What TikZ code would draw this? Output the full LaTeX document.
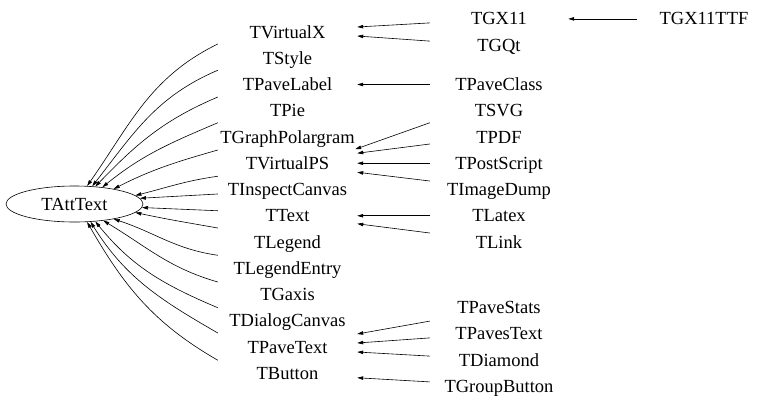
\documentclass[tikz,border=0pt]{standalone}
\usepackage{fontspec}
\setmainfont{Liberation Serif}
\usetikzlibrary{arrows.meta,shapes.geometric}

\begin{document}
\begin{tikzpicture}[x=1pt,y=1pt,
  every node/.style={font=\fontsize{18.5}{22}\selectfont, text height=12pt, text depth=0pt, inner sep=0pt},
  colA/.style={minimum width=139pt},
  colB/.style={minimum width=138pt},
  colC/.style={minimum width=134pt},
  inh/.style={line width=0.6pt, -{Triangle[length=6pt,width=3.5pt]}}]
  \useasboundingbox (0,0) rectangle (779,-405);

  % base class
  \node[ellipse, draw, line width=0.6pt, minimum width=137pt, minimum height=36pt] (TAttText) at (74.5,-204) {TAttText};

  % direct subclasses
  \node[colA] (TVirtualX) at (287.5,-32) {TVirtualX};
  \node[colA] (TStyle) at (287.5,-58.25) {TStyle};
  \node[colA] (TPaveLabel) at (287.5,-84.5) {TPaveLabel};
  \node[colA] (TPie) at (287.5,-110.75) {TPie};
  \node[colA] (TGraphPolargram) at (287.5,-137) {TGraphPolargram};
  \node[colA] (TVirtualPS) at (287.5,-163.25) {TVirtualPS};
  \node[colA] (TInspectCanvas) at (287.5,-189.5) {TInspectCanvas};
  \node[colA] (TText) at (287.5,-215.75) {TText};
  \node[colA] (TLegend) at (287.5,-242) {TLegend};
  \node[colA] (TLegendEntry) at (287.5,-268.25) {TLegendEntry};
  \node[colA] (TGaxis) at (287.5,-294.5) {TGaxis};
  \node[colA] (TDialogCanvas) at (287.5,-320.75) {TDialogCanvas};
  \node[colA] (TPaveText) at (287.5,-347) {TPaveText};
  \node[colA] (TButton) at (287.5,-373.25) {TButton};

  % second level
  \node[colB] (TGX11) at (499,-18.9) {TGX11};
  \node[colB] (TGQt) at (499,-45.1) {TGQt};
  \node[colB] (TPaveClass) at (499,-84.5) {TPaveClass};
  \node[colB] (TSVG) at (499,-110.75) {TSVG};
  \node[colB] (TPDF) at (499,-137) {TPDF};
  \node[colB] (TPostScript) at (499,-163.25) {TPostScript};
  \node[colB] (TImageDump) at (499,-189.5) {TImageDump};
  \node[colB] (TLatex) at (499,-215.75) {TLatex};
  \node[colB] (TLink) at (499,-242) {TLink};
  \node[colB] (TPaveStats) at (499,-307.6) {TPaveStats};
  \node[colB] (TPavesText) at (499,-333.9) {TPavesText};
  \node[colB] (TDiamond) at (499,-360.1) {TDiamond};
  \node[colB] (TGroupButton) at (499,-386.4) {TGroupButton};

  % third level
  \node[colC] (TGX11TTF) at (704,-18.9) {TGX11TTF};

  % edges into TAttText
  \draw[inh] ([yshift=-12pt]TVirtualX.west) to[out=206,in=55] (TAttText.55);
  \draw[inh] ([yshift=-12pt]TStyle.west) to[out=203,in=52] (TAttText.45);
  \draw[inh] ([yshift=-12.5pt]TPaveLabel.west) to[out=203,in=46] (TAttText.40);
  \draw[inh] ([yshift=-12pt]TPie.west) to[out=203,in=39] (TAttText.31);
  \draw[inh] ([yshift=-13pt]TGraphPolargram.west) to[out=196,in=27] (TAttText.21);
  \draw[inh] ([yshift=-13pt]TVirtualPS.west) to[out=188,in=14] (TAttText.8);
  \draw[inh] ([yshift=-4.5pt]TInspectCanvas.west) -- (TAttText.5);
  \draw[inh] ([yshift=5pt]TText.west) -- (TAttText.-3);
  \draw[inh] ([yshift=14pt]TLegend.west) to[out=170,in=-12] (TAttText.-8);
  \draw[inh] ([yshift=13pt]TLegendEntry.west) to[out=172,in=-18] (TAttText.-21);
  \draw[inh] ([yshift=12.5pt]TGaxis.west) to[out=164,in=-31] (TAttText.-30);
  \draw[inh] ([yshift=13pt]TDialogCanvas.west) to[out=157,in=-51] (TAttText.-40);
  \draw[inh] ([yshift=14pt]TPaveText.west) to[out=150,in=-58] (TAttText.-48);
  \draw[inh] ([yshift=13pt]TButton.west) to[out=150,in=-60] (TAttText.-55);

  % edges between subclasses
  \draw[inh] ([yshift=-4pt]TGX11.west) -- ([yshift=5pt]TVirtualX.east);
  \draw[inh] ([yshift=4pt]TGQt.west) -- ([yshift=-4pt]TVirtualX.east);
  \draw[inh] (TPaveClass.west) -- (TPaveLabel.east);
  \draw[inh] ([yshift=-12pt]TSVG.west) -- ([xshift=-2pt,yshift=14pt]TVirtualPS.east);
  \draw[inh] ([yshift=-7pt]TPDF.west) -- ([yshift=10pt]TVirtualPS.east);
  \draw[inh] (TPostScript.west) -- (TVirtualPS.east);
  \draw[inh] ([yshift=8.5pt]TImageDump.west) -- ([yshift=-9pt]TVirtualPS.east);
  \draw[inh] (TLatex.west) -- (TText.east);
  \draw[inh] ([yshift=9pt]TLink.west) -- ([yshift=-8pt]TText.east);
  \draw[inh] ([yshift=-13.5pt]TPaveStats.west) -- ([yshift=13pt]TPaveText.east);
  \draw[inh] ([yshift=-4pt]TPavesText.west) -- ([yshift=4pt]TPaveText.east);
  \draw[inh] ([yshift=4pt]TDiamond.west) -- ([yshift=-5pt]TPaveText.east);
  \draw[inh] ([yshift=4.5pt]TGroupButton.west) -- ([yshift=-4.5pt]TButton.east);
  \draw[inh] (TGX11TTF.west) -- (TGX11.east);
\end{tikzpicture}
\end{document}
